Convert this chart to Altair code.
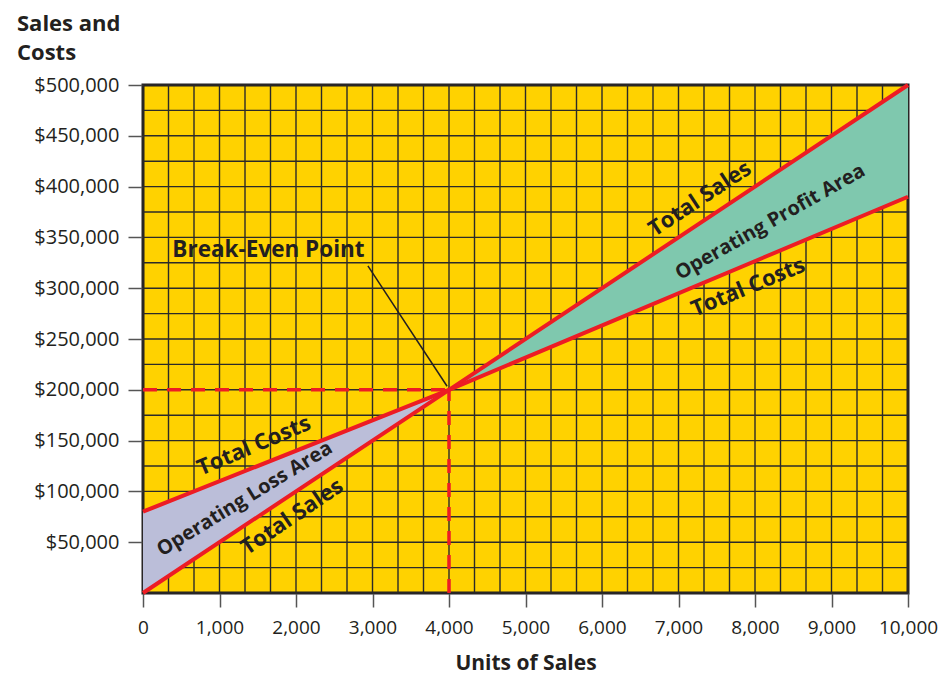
import altair as alt
import pandas as pd

# ---- data ----
UNITS = [0, 4000, 10000]
TOTAL_SALES = [0, 200000, 500000]
TOTAL_COSTS = [80000, 200000, 390000]
BREAK_EVEN_UNITS = 4000
BREAK_EVEN_VALUE = 200000

X_TICKS = [0, 1000, 2000, 3000, 4000, 5000, 6000, 7000, 8000, 9000, 10000]
Y_TICKS = [50000, 100000, 150000, 200000, 250000, 300000, 350000, 400000, 450000, 500000]
GRID_X = [i * 1000 / 3 for i in range(31)]
GRID_Y = [i * 25000 for i in range(21)]

LABELS = ["Total Sales", "Operating Profit Area", "Total Costs",
          "Total Costs", "Operating Loss Area", "Total Sales"]
LABEL_X = [7280, 8200, 7910, 1450, 1330, 1950]
LABEL_Y = [388000, 365000, 301000, 145000, 92500, 75000]
LABEL_ANGLE = [326.5, 330.5, 337.5, 337, 328.5, 326]
LABEL_SIZE = [22, 20, 22, 22, 20, 22]

NOTE_TEXT = ["Break-Even Point"]
NOTE_X = [1640]
NOTE_Y = [337500]
LEADER_X = [2940]
LEADER_Y = [322000]
LEADER_X2 = [3975]
LEADER_Y2 = [203500]

FONT = "Open Sans"
INK = "#231f20"
RED = "#ED1C24"

df = pd.DataFrame({"units": UNITS, "sales": TOTAL_SALES, "costs": TOTAL_COSTS})
profit = df[df["units"] >= BREAK_EVEN_UNITS]
loss = df[df["units"] <= BREAK_EVEN_UNITS]

xs = alt.Scale(domain=[0, 10000], nice=False, zero=False)
ys = alt.Scale(domain=[0, 500000], nice=False, zero=False)

x_axis = alt.Axis(values=X_TICKS, format=",.0f", grid=False, domain=False,
                  tickColor="#555555", tickSize=14, tickWidth=1.5,
                  labelOverlap=False, labelFlush=False,
                  labelFont=FONT, labelFontSize=19, labelColor=INK,
                  labelPadding=11, title="Units of Sales", titleFont=FONT,
                  titleFontSize=21, titleFontWeight="bold", titleColor=INK,
                  titlePadding=15)
y_axis = alt.Axis(values=Y_TICKS, format="$,.0f", grid=False, domain=False,
                  tickColor="#555555", tickSize=15, tickWidth=1.5,
                  labelOverlap=False, labelFlush=False,
                  labelFont=FONT, labelFontSize=20, labelColor=INK,
                  labelPadding=9, title=None)


def X(field):
    return alt.X(field, scale=xs, axis=x_axis, title="Units of Sales")


def Y(field):
    return alt.Y(field, scale=ys, axis=y_axis, title=None)


grid_v = alt.Chart(pd.DataFrame({"gx": GRID_X})).mark_rule(
    color="#2b2a29", strokeWidth=1.4
).encode(x=X("gx:Q"))

grid_h = alt.Chart(pd.DataFrame({"gy": GRID_Y})).mark_rule(
    color="#2b2a29", strokeWidth=1.4
).encode(y=Y("gy:Q"))

profit_area = alt.Chart(profit).mark_area(color="#7FC8AE", opacity=1).encode(
    x=X("units:Q"), y=Y("sales:Q"), y2="costs:Q")
loss_area = alt.Chart(loss).mark_area(color="#BBBED9", opacity=1).encode(
    x=X("units:Q"), y=Y("sales:Q"), y2="costs:Q")

sales_line = alt.Chart(df).mark_line(color=RED, strokeWidth=4).encode(
    x=X("units:Q"), y=Y("sales:Q"))
costs_line = alt.Chart(df).mark_line(color=RED, strokeWidth=4).encode(
    x=X("units:Q"), y=Y("costs:Q"))

dash_df = pd.DataFrame({
    "x": [0, BREAK_EVEN_UNITS], "x2": [BREAK_EVEN_UNITS, BREAK_EVEN_UNITS],
    "y": [BREAK_EVEN_VALUE, 0], "y2": [BREAK_EVEN_VALUE, BREAK_EVEN_VALUE]})
dashes = alt.Chart(dash_df).mark_rule(
    color=RED, strokeWidth=3.5, strokeDash=[14, 10]
).encode(x=X("x:Q"), x2="x2:Q", y=Y("y:Q"), y2="y2:Q")

leader = alt.Chart(pd.DataFrame({"x": LEADER_X, "y": LEADER_Y,
                                 "x2": LEADER_X2, "y2": LEADER_Y2})).mark_rule(
    color=INK, strokeWidth=1.5
).encode(x=X("x:Q"), x2="x2:Q", y=Y("y:Q"), y2="y2:Q")

labels = alt.Chart(pd.DataFrame({"t": LABELS, "x": LABEL_X, "y": LABEL_Y,
                                 "a": LABEL_ANGLE, "s": LABEL_SIZE})).mark_text(
    font=FONT, fontWeight="bold", color=INK,
    align="center", baseline="middle"
).encode(x=X("x:Q"), y=Y("y:Q"),
         text="t:N", angle=alt.Angle("a:Q", scale=None),
         size=alt.Size("s:Q", scale=None, legend=None))

note = alt.Chart(pd.DataFrame({"t": NOTE_TEXT, "x": NOTE_X, "y": NOTE_Y})).mark_text(
    font=FONT, fontSize=22.5, fontWeight="bold", color=INK,
    align="center", baseline="middle"
).encode(x=X("x:Q"), y=Y("y:Q"), text="t:N")

chart = alt.layer(
    grid_v, grid_h, profit_area, loss_area, dashes, leader,
    sales_line, costs_line, labels, note
).properties(
    width=765, height=508,
    autosize=alt.AutoSizeParams(type="none"),
    padding={"left": 135, "top": 77, "right": 30, "bottom": 82},
    background="white",
    title=alt.TitleParams(text=["Sales and", "Costs"], anchor="start",
                          frame="group", dx=-126, offset=10, font=FONT,
                          fontSize=22, fontWeight="bold", color=INK,
                          lineHeight=29),
).configure_view(fill="#FFD200", stroke="#231f20", strokeWidth=3)

chart.save("out.html", embed_options={"renderer": "svg", "actions": False})
